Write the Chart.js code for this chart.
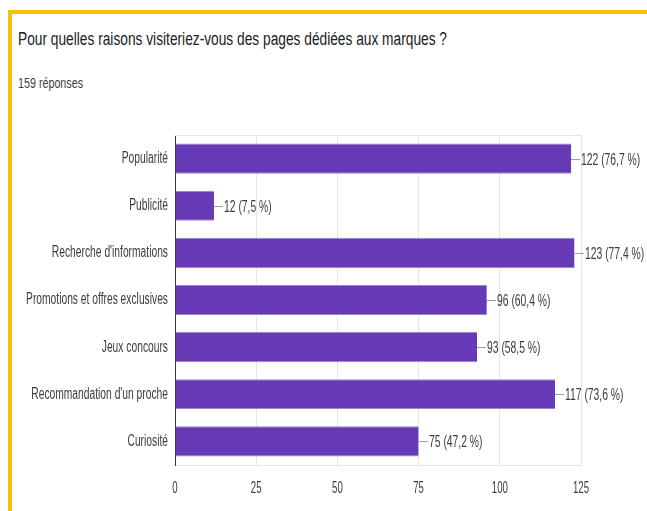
<!DOCTYPE html>
<html lang="fr">
<head>
<meta charset="utf-8">
<title>Pour quelles raisons visiteriez-vous des pages dédiées aux marques ?</title>
<script src="https://cdn.jsdelivr.net/npm/chart.js@4.4.1/dist/chart.umd.min.js"></script>
<style>
  html, body { margin: 0; padding: 0; background: #fff; overflow: hidden; }
  body { width: 647px; height: 511px; position: relative; }
  .frame {
    position: absolute; left: 8px; top: 10px; right: -20px; bottom: -20px;
    border-top: 4px solid #fcbf07; border-left: 4px solid #fcbf07;
  }
  .title, .sub {
    position: absolute; left: 18px; white-space: nowrap;
    font-family: Arial, 'Liberation Sans', sans-serif;
    transform-origin: 0 0;
  }
  .title { top: 29px; font-size: 18px; color: #202124; }
  .sub { top: 75px; font-size: 14px; color: #3c4043; }
  #wrap { position: absolute; left: 0; top: 0; width: 647px; height: 511px; }
</style>
</head>
<body>
<div class="frame"></div>
<div class="title" id="title">Pour quelles raisons visiteriez-vous des pages dédiées aux marques ?</div>
<div class="sub" id="sub">159 réponses</div>
<div id="wrap"><canvas id="chart"></canvas></div>
<script>
// ===== DATA =====
const categories = [
  'Popularité',
  'Publicité',
  "Recherche d'informations",
  'Promotions et offres exclusives',
  'Jeux concours',
  "Recommandation d'un proche",
  'Curiosité',
];
const counts = [122, 12, 123, 96, 93, 117, 75];
const percents = ['76,7', '7,5', '77,4', '60,4', '58,5', '73,6', '47,2'];
const xTicks = [0, 25, 50, 75, 100, 125];

// ===== STYLE =====
const COLORS = {
  bar: '#673ab7',
  barEdge: '#9a84cf',
  text: '#3c3c3c',
  grid: '#e6e6e6',
  axis: '#333',
  leader: '#9e9e9e',
};
const FONT = "Arial, 'Liberation Sans', sans-serif";

// the picture's text is horizontally condensed; no narrow font is installed,
// so squeeze glyphs per alignment (right = category labels, center = x ticks,
// left = value labels)
const SQUEEZE = { right: 0.642, center: 0.6, left: 0.647 };

// squeeze html text to the widths seen in the picture
function fitWidth(id, target) {
  const el = document.getElementById(id);
  const w = el.getBoundingClientRect().width;
  if (w > 0) el.style.transform = `scaleX(${target / w})`;
}
fitWidth('title', 429);
fitWidth('sub', 65);

const condensedText = {
  id: 'condensedText',
  beforeInit(chart) {
    const ctx = chart.ctx;
    const orig = ctx.fillText;
    ctx.fillText = function (text, x, y, maxWidth) {
      const sx = SQUEEZE[this.textAlign] || 1;
      this.save();
      this.translate(x, y);
      this.scale(sx, 1);
      if (maxWidth === undefined) orig.call(this, text, 0, 0);
      else orig.call(this, text, 0, 0, maxWidth / sx);
      this.restore();
    };
  },
};

// value labels: short grey leader + "n (p %)"
const valueLabels = {
  id: 'valueLabels',
  afterDatasetsDraw(chart) {
    const { ctx } = chart;
    const meta = chart.getDatasetMeta(0);
    ctx.save();
    ctx.font = `16px ${FONT}`;
    ctx.fillStyle = COLORS.text;
    ctx.textBaseline = 'middle';
    ctx.textAlign = 'left';
    meta.data.forEach((bar, i) => {
      const x = Math.round(bar.x);
      const y = Math.round(bar.y) + 0.5;
      ctx.strokeStyle = COLORS.leader;
      ctx.lineWidth = 1;
      ctx.beginPath();
      ctx.moveTo(x, y);
      ctx.lineTo(x + 9, y);
      ctx.stroke();
      ctx.fillText(`${counts[i]} (${percents[i]} %)`, x + 10, y + 1);
    });
    ctx.restore();
  },
};

// thin line closing the top of the plot box
const topLine = {
  id: 'topLine',
  beforeDatasetsDraw(chart) {
    const { ctx, chartArea } = chart;
    ctx.save();
    ctx.strokeStyle = COLORS.grid;
    ctx.lineWidth = 1;
    ctx.beginPath();
    ctx.moveTo(chartArea.left, chartArea.top + 0.5);
    ctx.lineTo(chartArea.right, chartArea.top + 0.5);
    ctx.stroke();
    ctx.restore();
  },
};

// ===== CHART =====
new Chart(document.getElementById('chart'), {
  type: 'bar',
  data: {
    labels: categories,
    datasets: [
      {
        data: counts,
        backgroundColor: COLORS.bar,
        borderColor: COLORS.barEdge,
        borderWidth: { top: 1, bottom: 1, left: 0, right: 0 },
        borderSkipped: false,
        categoryPercentage: 1,
        barPercentage: 0.64,
      },
    ],
  },
  options: {
    indexAxis: 'y',
    responsive: true,
    maintainAspectRatio: false,
    animation: false,
    layout: { padding: { left: 0, top: 135, right: 66, bottom: 0 } },
    scales: {
      x: {
        min: 0,
        max: 125,
        afterBuildTicks: (scale) => {
          scale.ticks = xTicks.map((v) => ({ value: v }));
        },
        afterFit: (scale) => { scale.height = 46; },
        grid: { color: COLORS.grid, drawTicks: false },
        border: { display: true, color: COLORS.grid },
        ticks: {
          color: COLORS.text,
          padding: 14,
          font: { family: FONT, size: 16 },
        },
      },
      y: {
        afterFit: (scale) => { scale.width = 175; },
        grid: { display: false, drawTicks: false },
        border: { display: true, color: COLORS.axis },
        ticks: {
          color: COLORS.text,
          padding: 7,
          font: { family: FONT, size: 16 },
        },
      },
    },
    plugins: {
      legend: { display: false },
      tooltip: { enabled: false },
    },
  },
  plugins: [condensedText, topLine, valueLabels],
});
</script>
</body>
</html>
